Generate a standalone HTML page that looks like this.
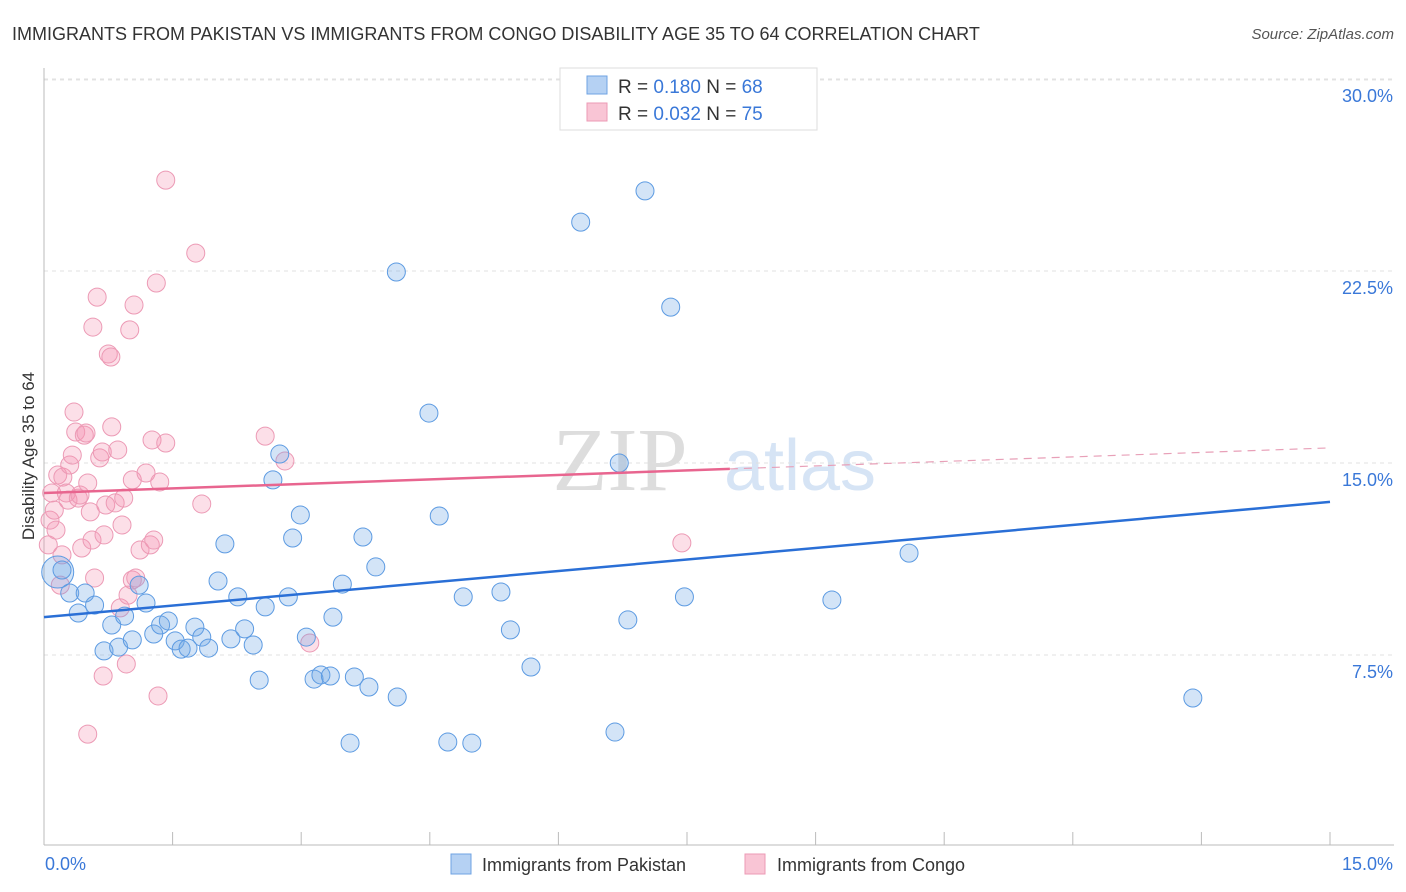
<!DOCTYPE html>
<html><head><meta charset="utf-8"><style>
body{margin:0;background:#fff;font-family:"Liberation Sans",sans-serif;}
svg{display:block}
</style></head><body>
<svg width="1406" height="892" id="chart">
<text x="12" y="40" font-size="18" fill="#333">IMMIGRANTS FROM PAKISTAN VS IMMIGRANTS FROM CONGO DISABILITY AGE 35 TO 64 CORRELATION CHART</text>
<text x="1394" y="39" font-size="15" fill="#555" text-anchor="end" font-style="italic">Source: ZipAtlas.com</text>
<text x="620" y="490" font-size="90" fill="#ddd" text-anchor="middle" font-family="Liberation Serif">ZIP</text>
<text x="800" y="490" font-size="72" fill="#d6e4f5" text-anchor="middle">atlas</text>
<text transform="translate(34,456) rotate(-90)" font-size="17" fill="#333" text-anchor="middle">Disability Age 35 to 64</text>
<g id="grid"></g><g id="axes"></g><g id="pts"></g><g id="trend"></g>
<g>
<rect x="560" y="68" width="257" height="62" fill="#fff" stroke="#ddd"/>
<rect x="587" y="76" width="20" height="18" fill="#b5d1f3" stroke="#6fa3e3"/>
<rect x="587" y="103" width="20" height="18" fill="#f9c5d5" stroke="#ec9ab5"/>
<text x="618" y="93" font-size="19" fill="#333">R = <tspan fill="#3a78d8">0.180</tspan>   N = <tspan fill="#3a78d8">68</tspan></text>
<text x="618" y="120" font-size="19" fill="#333">R = <tspan fill="#3a78d8">0.032</tspan>   N = <tspan fill="#3a78d8">75</tspan></text>
</g>
<g>
<rect x="451" y="854" width="20" height="20" fill="#b5d1f3" stroke="#6fa3e3"/>
<text x="482" y="871" font-size="18" fill="#333">Immigrants from Pakistan</text>
<rect x="745" y="854" width="20" height="20" fill="#f9c5d5" stroke="#ec9ab5"/>
<text x="777" y="871" font-size="18" fill="#333">Immigrants from Congo</text>
</g>
</svg>
<script>
const yTicks=[30,22.5,15,7.5];
const yTickLabels=["30.0%","22.5%","15.0%","7.5%"];
const xEndLabels=["0.0%","15.0%"];
const blueX=[0.16,0.21,0.30,0.40,0.48,0.59,0.70,0.79,0.87,0.94,1.03,1.11,1.19,1.28,1.36,1.45,1.53,1.60,1.68,1.76,1.84,1.92,2.03,2.11,2.18,2.26,2.34,2.44,2.51,2.58,2.67,2.75,2.85,2.90,2.99,3.06,3.15,3.23,3.34,3.37,3.48,3.57,3.62,3.72,3.79,3.87,4.11,4.12,4.49,4.61,4.71,4.89,4.99,5.33,5.44,5.68,6.26,6.66,6.71,6.81,7.01,7.31,7.47,9.19,10.09,13.40];
const blueY=[10.74,10.82,9.92,9.14,9.92,9.45,7.66,8.67,7.81,9.02,8.09,10.23,9.53,8.32,8.67,8.83,8.05,7.73,7.77,8.59,8.20,7.77,10.39,11.84,8.13,9.77,8.52,7.89,6.52,9.38,14.34,15.35,9.77,12.07,12.97,8.20,6.56,6.72,6.68,8.98,10.27,4.06,6.64,12.11,6.25,10.94,22.46,5.86,16.95,12.93,4.10,9.77,4.06,9.96,8.48,7.03,24.41,4.49,15.0,8.87,25.63,21.09,9.77,9.65,11.48,5.82];
const pinkX=[0.05,0.07,0.09,0.12,0.14,0.16,0.19,0.21,0.22,0.26,0.28,0.30,0.33,0.35,0.37,0.40,0.42,0.44,0.47,0.49,0.51,0.54,0.56,0.59,0.62,0.57,0.65,0.68,0.70,0.72,0.75,0.78,0.79,0.83,0.86,0.89,0.91,0.93,0.96,0.98,1.00,1.03,1.05,1.03,1.07,1.12,1.19,1.24,1.26,1.28,1.31,1.33,1.35,1.42,1.42,1.77,1.84,2.58,2.81,3.10,7.44,0.51,0.69];
const pinkY=[11.80,12.77,13.83,13.16,12.38,14.53,10.23,11.41,14.45,13.83,13.55,14.92,15.31,16.99,16.21,13.63,13.75,11.68,16.09,16.17,14.22,13.09,11.99,10.51,21.48,20.31,15.20,15.43,12.19,13.36,19.26,19.14,16.41,13.44,15.51,9.34,12.58,13.63,7.15,9.84,20.20,10.43,21.17,14.34,10.51,11.60,14.61,11.80,15.90,11.99,22.03,5.90,14.26,15.78,26.05,23.20,13.40,16.05,15.08,7.97,11.88,4.41,6.68];
const blueTrend=[8.98,13.48];
const pinkTrend=[13.83,15.59];
const pinkSolidEnd=8.0;
const NS="http://www.w3.org/2000/svg";
const X0=44,X1=1330,Y0=847,PXY=192/7.5;
const sx=v=>X0+(v/15)*(X1-X0);
const sy=v=>Y0-v*PXY;
function mk(tag,attrs,parent){const e=document.createElementNS(NS,tag);for(const k in attrs)e.setAttribute(k,attrs[k]);document.getElementById(parent).appendChild(e);return e;}
mk('line',{x1:X0,y1:80,x2:1394,y2:80,stroke:'#e4e4e4','stroke-dasharray':'4,4'},'grid');
yTicks.forEach((t,i)=>{
 const g=mk('line',{x1:X0,y1:sy(t),x2:1394,y2:sy(t),stroke:'#e0e0e0','stroke-dasharray':'4,4'},'grid');
 
 
 const l=mk('text',{x:1393,y:sy(t)+23,'font-size':18,fill:'#3a78d8','text-anchor':'end'},'grid');
 l.textContent=yTickLabels[i];
 
 
});
const ax=mk('line',{x1:X0,y1:68,x2:X0,y2:845,stroke:'#bbb'},'axes');


const bx=mk('line',{x1:X0,y1:845,x2:1394,y2:845,stroke:'#bbb'},'axes');


for(let i=1;i<=10;i++){const t=mk('line',{x1:sx(i*1.5),y1:832,x2:sx(i*1.5),y2:845,stroke:'#bbb'},'axes');
 
 }
const xl0=mk('text',{x:45,y:870,'font-size':18,fill:'#3a78d8'},'axes');xl0.textContent=xEndLabels[0];


const xl1=mk('text',{x:1393,y:870,'font-size':18,fill:'#3a78d8','text-anchor':'end'},'axes');xl1.textContent=xEndLabels[1];


pinkX.forEach((x,i)=>{const c=mk('circle',{cx:sx(x),cy:sy(pinkY[i]),r:9,fill:'rgba(244,150,180,0.3)',stroke:'#ec9ab5','stroke-width':1},'pts');
 
 });
blueX.forEach((x,i)=>{const c=mk('circle',{cx:sx(x),cy:sy(blueY[i]),r:i===0?16:9,fill:'rgba(110,165,230,0.3)',stroke:'#5d9be2','stroke-width':1},'pts');
 
 });
const bt=mk('line',{x1:sx(0),y1:sy(blueTrend[0]),x2:sx(15),y2:sy(blueTrend[1]),stroke:'#2a6fd6','stroke-width':2.5},'trend');


const pm=pinkTrend[0]+(pinkTrend[1]-pinkTrend[0])*pinkSolidEnd/15;
const pt=mk('line',{x1:sx(0),y1:sy(pinkTrend[0]),x2:sx(pinkSolidEnd),y2:sy(pm),stroke:'#e8658f','stroke-width':2.5},'trend');


const pd=mk('line',{x1:sx(pinkSolidEnd),y1:sy(pm),x2:sx(15),y2:sy(pinkTrend[1]),stroke:'#e8a0b8','stroke-width':1.2,'stroke-dasharray':'8,6'},'trend');


</script>
</body></html>
